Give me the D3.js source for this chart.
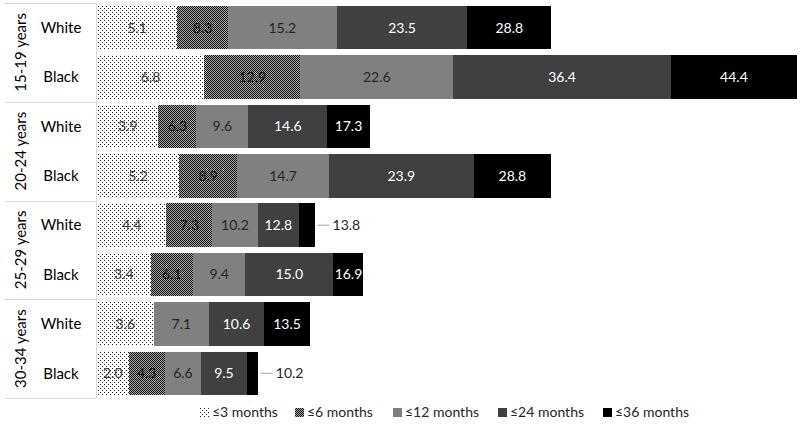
<!doctype html>
<html lang="en">
<head>
  <meta charset="utf-8">
  <script src="https://d3js.org/d3.v7.min.js"></script>
  <style>
    body { margin: 0; background: #fff; }
    text { font-family: Lato, "Open Sans", sans-serif; }
  </style>
</head>
<body>
  <script>
    // rows, top to bottom
    var ageGroups = ["15-19 years", "20-24 years", "25-29 years", "30-34 years"];
    var races = ["White", "Black"];
    var seriesNames = ["≤3 months", "≤6 months", "≤12 months", "≤24 months", "≤36 months"];

    // cumulative percentages, one value per row (White, Black for each age group)
    var le3  = [5.1, 6.8, 3.9, 5.2, 4.4, 3.4, 3.6, 2.0];
    var le6  = [8.3, 12.9, 6.3, 8.9, 7.3, 6.1, 3.6, 4.3];
    var le12 = [15.2, 22.6, 9.6, 14.7, 10.2, 9.4, 7.1, 6.6];
    var le24 = [23.5, 36.4, 14.6, 23.9, 12.8, 15.0, 10.6, 9.5];
    var le36 = [28.8, 44.4, 17.3, 28.8, 13.8, 16.9, 13.5, 10.2];

    var width = 800, height = 432;
    var series = [le3, le6, le12, le24, le36];

    var rows = [];
    ageGroups.forEach(function(g) {
      races.forEach(function(r) { rows.push(g + "|" + r); });
    });

    var svg = d3.select("body").append("svg")
        .attr("width", width)
        .attr("height", height);

    // patterns for the first two series
    var defs = svg.append("defs");
    var dots = defs.append("pattern")
        .attr("id", "dots")
        .attr("patternUnits", "userSpaceOnUse")
        .attr("width", 4).attr("height", 4);
    dots.append("rect").attr("width", 4).attr("height", 4).attr("fill", "#fff");
    dots.append("rect").attr("x", 0).attr("y", 0).attr("width", 1).attr("height", 1).attr("fill", "#222");
    dots.append("rect").attr("x", 2).attr("y", 2).attr("width", 1).attr("height", 1).attr("fill", "#222");

    var check = defs.append("pattern")
        .attr("id", "check")
        .attr("patternUnits", "userSpaceOnUse")
        .attr("width", 2).attr("height", 2);
    check.append("rect").attr("width", 2).attr("height", 2).attr("fill", "#a8a8a8");
    check.append("rect").attr("x", 0).attr("y", 0).attr("width", 1).attr("height", 1).attr("fill", "#111");
    check.append("rect").attr("x", 1).attr("y", 1).attr("width", 1).attr("height", 1).attr("fill", "#111");

    var fills = ["url(#dots)", "url(#check)", "#808080", "#404040", "#000000"];
    var textColors = ["#3a3a3a", "#111111", "#262626", "#ffffff", "#ffffff"];

    var x = d3.scaleLinear()
        .domain([0, 44.4])
        .range([97, 797]);

    var y = d3.scaleBand()
        .domain(rows)
        .range([3, 398])
        .paddingInner(0.12)
        .paddingOuter(0.06);

    // category frame (multi-level axis)
    var frame = svg.append("g");
    var step = y.step();
    d3.range(ageGroups.length + 1).forEach(function(i) {
      var yy = Math.round(3 + i * 2 * step) + 0.5;
      frame.append("line")
          .attr("x1", 5).attr("x2", 96)
          .attr("y1", yy).attr("y2", yy)
          .attr("stroke", "#d9d9d9");
    });
    frame.append("line")
        .attr("x1", 96.5).attr("x2", 96.5)
        .attr("y1", 3).attr("y2", 398)
        .attr("stroke", "#d9d9d9");

    ageGroups.forEach(function(g, i) {
      var cy = 3 + (i * 2 + 1) * step;
      frame.append("text")
          .attr("transform", "translate(26," + cy + ") rotate(-90)")
          .attr("text-anchor", "middle")
          .attr("font-size", 15)
          .attr("fill", "#000")
          .text(g);
    });

    rows.forEach(function(r) {
      frame.append("text")
          .attr("x", 61)
          .attr("y", y(r) + y.bandwidth() / 2)
          .attr("dy", "0.35em")
          .attr("text-anchor", "middle")
          .attr("font-size", 15)
          .attr("fill", "#000")
          .text(r.split("|")[1]);
    });

    // stacked segments
    var bars = svg.append("g");
    series.forEach(function(vals, s) {
      rows.forEach(function(r, i) {
        var start = s === 0 ? 0 : series[s - 1][i];
        var end = vals[i];
        if (end - start <= 0) return;
        bars.append("rect")
            .attr("x", x(start))
            .attr("y", y(r))
            .attr("width", x(end) - x(start))
            .attr("height", y.bandwidth())
            .attr("fill", fills[s])
            .attr("shape-rendering", "crispEdges");
      });
    });

    // value labels
    var labels = svg.append("g");
    series.forEach(function(vals, s) {
      rows.forEach(function(r, i) {
        var start = s === 0 ? 0 : series[s - 1][i];
        var end = vals[i];
        if (end - start <= 0) return;
        var cy = y(r) + y.bandwidth() / 2;
        var w = x(end) - x(start);
        if (w < 24) {
          // outside label with a leader line
          labels.append("line")
              .attr("x1", x(end) + 3).attr("x2", x(end) + 15)
              .attr("y1", cy).attr("y2", cy)
              .attr("stroke", "#a6a6a6");
          labels.append("text")
              .attr("x", x(end) + 18)
              .attr("y", cy)
              .attr("dy", "0.35em")
              .attr("font-size", 14)
              .attr("fill", "#262626")
              .text(end.toFixed(1));
        } else {
          labels.append("text")
              .attr("x", (x(start) + x(end)) / 2)
              .attr("y", cy)
              .attr("dy", "0.35em")
              .attr("text-anchor", "middle")
              .attr("font-size", 14)
              .attr("fill", textColors[s])
              .text(end.toFixed(1));
        }
      });
    });

    // legend
    var legendX = [200, 295, 393, 498, 603];
    var legend = svg.append("g");
    seriesNames.forEach(function(name, s) {
      legend.append("rect")
          .attr("x", legendX[s])
          .attr("y", 408)
          .attr("width", 9).attr("height", 9)
          .attr("fill", fills[s]);
      legend.append("text")
          .attr("x", legendX[s] + 12)
          .attr("y", 412.5)
          .attr("dy", "0.35em")
          .attr("font-size", 14)
          .attr("fill", "#262626")
          .text(name);
    });
  </script>
</body>
</html>
